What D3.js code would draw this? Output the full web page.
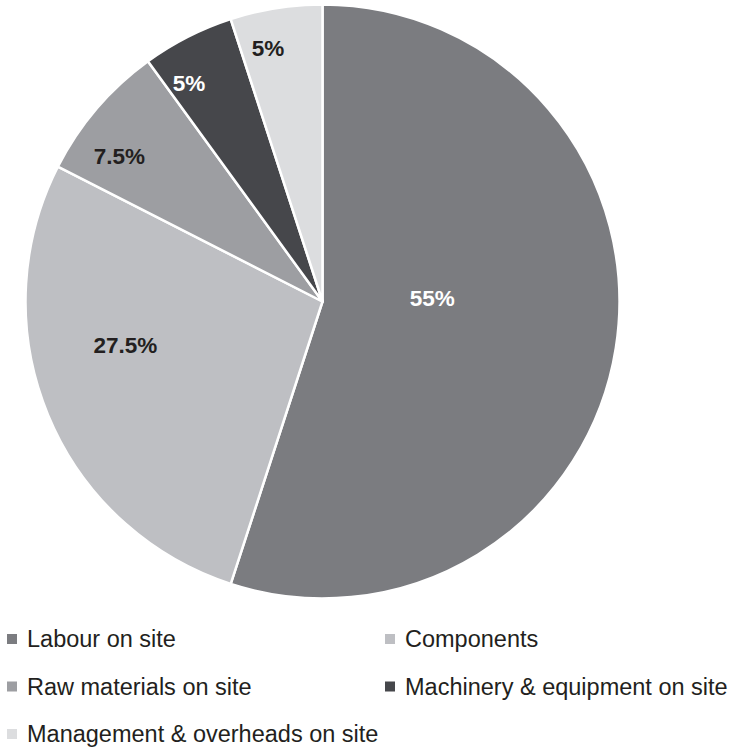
<!DOCTYPE html>
<html>
<head>
<meta charset="utf-8">
<script src="https://cdn.jsdelivr.net/npm/d3@7"></script>
<style>
  html, body { margin: 0; padding: 0; background: #ffffff; }
  svg { display: block; }
</style>
</head>
<body>
<svg id="chart" width="731" height="748"></svg>
<script>
// Cost breakdown of on-site construction (share of total, %)
const categories = [
  "Labour on site",
  "Components",
  "Raw materials on site",
  "Machinery & equipment on site",
  "Management & overheads on site"
];
const values = [55, 27.5, 7.5, 5, 5];
const valueLabels = ["55%", "27.5%", "7.5%", "5%", "5%"];

// Slice fills and label colours
const fills = ["#7b7c80", "#bebfc3", "#9d9ea2", "#46474b", "#dcdddf"];
const labelColors = ["#ffffff", "#231f20", "#231f20", "#ffffff", "#231f20"];

// Legend is laid out in two columns, rows in reading order
const legendOrder = [0, 1, 2, 3, 4];

const svg = d3.select("#chart");
const cx = 322.5, cy = 301.5, radius = 297;

const data = categories.map((c, i) => ({ name: c, value: values[i], label: valueLabels[i], i }));

const pie = d3.pie().value(d => d.value).sort(null);
const arcs = pie(data);
const arc = d3.arc().innerRadius(0).outerRadius(radius);

const g = svg.append("g").attr("transform", `translate(${cx},${cy})`);

g.selectAll("path.slice")
  .data(arcs)
  .enter().append("path")
  .attr("class", "slice")
  .attr("d", arc)
  .attr("fill", d => fills[d.data.i])
  .attr("stroke", "#ffffff")
  .attr("stroke-width", 2.5)
  .attr("stroke-linejoin", "round");

// Label placement: radial distance (fraction of radius) and angle shift (deg) per slice
const labelPlace = [
  { r: 0.37, shift: -10.5 },
  { r: 0.68, shift: 10 },
  { r: 0.84, shift: -5 },
  { r: 0.86, shift: -4.5 },
  { r: 0.87, shift: -3.2 }
];

g.selectAll("text.val")
  .data(arcs)
  .enter().append("text")
  .attr("class", "val")
  .each(function(d) {
    const p = labelPlace[d.data.i];
    const a = (d.startAngle + d.endAngle) / 2 + p.shift * Math.PI / 180;
    const rr = p.r * radius;
    d3.select(this)
      .attr("x", rr * Math.sin(a))
      .attr("y", -rr * Math.cos(a));
  })
  .attr("text-anchor", "middle")
  .attr("dominant-baseline", "central")
  .attr("font-family", "'Liberation Sans', Arial, sans-serif")
  .attr("font-weight", "bold")
  .attr("font-size", 22.5)
  .attr("fill", d => labelColors[d.data.i])
  .text(d => d.data.label);

// Legend
const colX = [7, 385];
const rowY = [634, 681.5, 729];
const legend = svg.append("g");
legendOrder.forEach((idx, k) => {
  const x = colX[k % 2];
  const y = rowY[Math.floor(k / 2)];
  const item = legend.append("g").attr("transform", `translate(${x},${y})`);
  item.append("rect")
    .attr("width", 10).attr("height", 10)
    .attr("fill", fills[idx]);
  item.append("text")
    .attr("x", 20)
    .attr("y", 13)
    .attr("font-family", "'Liberation Sans', Arial, sans-serif")
    .attr("font-size", 23.5)
    .attr("fill", "#231f20")
    .text(categories[idx]);
});
</script>
</body>
</html>
